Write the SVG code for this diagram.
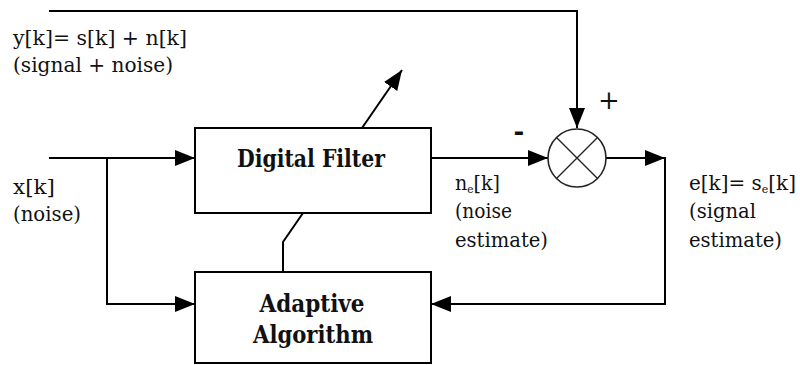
<svg xmlns="http://www.w3.org/2000/svg" width="800" height="365" viewBox="0 0 800 365">
<style>
.ln{fill:none;stroke:#000;stroke-width:2}
.box{fill:#fff;stroke:#000;stroke-width:2}
text{font-family:'DejaVu Serif','Liberation Serif',serif;fill:#111}
.lbl{font-size:20px}
.bld{font-size:24px;font-weight:bold;text-anchor:middle}
.sub{font-size:11px}
.pm{font-size:26px;text-anchor:middle}
</style>
<defs>
<marker id="ah" viewBox="0 0 20 16" refX="20" refY="8" markerWidth="20" markerHeight="16" markerUnits="userSpaceOnUse" orient="auto">
<path d="M0,0 L20,8 L0,16 z" fill="#000"/>
</marker>
</defs>
<rect width="800" height="365" fill="#fff"/>
<g id="connectors">
<path class="ln" d="M49,11 H577 V128" marker-end="url(#ah)"/>
<path class="ln" d="M49,158 H195" marker-end="url(#ah)"/>
<path class="ln" d="M107,158 V304 H195" marker-end="url(#ah)"/>
<path class="ln" d="M431,158 H548" marker-end="url(#ah)"/>
<path class="ln" d="M606,158 H665" marker-end="url(#ah)"/>
<path class="ln" d="M665,157 V304 H431" marker-end="url(#ah)"/>
<path class="ln" d="M283,272 V242 L303,213"/>
<path class="ln" d="M362,128 L402,70" marker-end="url(#ah)"/>
</g>
<g id="digital-filter">
<rect class="box" x="195" y="128" width="236" height="85"/>
<text class="bld" x="311" y="167" textLength="148" lengthAdjust="spacingAndGlyphs">Digital Filter</text>
</g>
<g id="adaptive-algorithm">
<rect class="box" x="195" y="272" width="236" height="91"/>
<text class="bld" x="312" y="312" textLength="105" lengthAdjust="spacingAndGlyphs">Adaptive</text>
<text class="bld" x="313" y="343" textLength="120" lengthAdjust="spacingAndGlyphs">Algorithm</text>
</g>
<g id="summer">
<circle cx="577" cy="158" r="29" fill="#fff" stroke="#222" stroke-width="1.6"/>
<path d="M556.5,137.5 L597.5,178.5 M597.5,137.5 L556.5,178.5" stroke="#222" stroke-width="1.4" fill="none"/>
<text class="pm" x="519" y="140" font-weight="bold">-</text>
<text class="pm" x="609" y="109">+</text>
</g>
<g id="labels">
<text class="lbl" x="13" y="45" textLength="174" lengthAdjust="spacingAndGlyphs">y[k]= s[k] + n[k]</text>
<text class="lbl" x="13" y="72" textLength="160" lengthAdjust="spacingAndGlyphs">(signal + noise)</text>
<text class="lbl" x="13" y="194" textLength="42" lengthAdjust="spacingAndGlyphs">x[k]</text>
<text class="lbl" x="13" y="221" textLength="68" lengthAdjust="spacingAndGlyphs">(noise)</text>
<text class="lbl" x="455" y="190" textLength="45" lengthAdjust="spacingAndGlyphs">n<tspan class="sub" dy="3">e</tspan><tspan dy="-3">[k]</tspan></text>
<text class="lbl" x="455" y="218" textLength="57" lengthAdjust="spacingAndGlyphs">(noise</text>
<text class="lbl" x="455" y="247" textLength="93" lengthAdjust="spacingAndGlyphs">estimate)</text>
<text class="lbl" x="689" y="190" textLength="107" lengthAdjust="spacingAndGlyphs">e[k]= s<tspan class="sub" dy="3">e</tspan><tspan dy="-3">[k]</tspan></text>
<text class="lbl" x="689" y="218" textLength="67" lengthAdjust="spacingAndGlyphs">(signal</text>
<text class="lbl" x="689" y="247" textLength="93" lengthAdjust="spacingAndGlyphs">estimate)</text>
</g>
</svg>
